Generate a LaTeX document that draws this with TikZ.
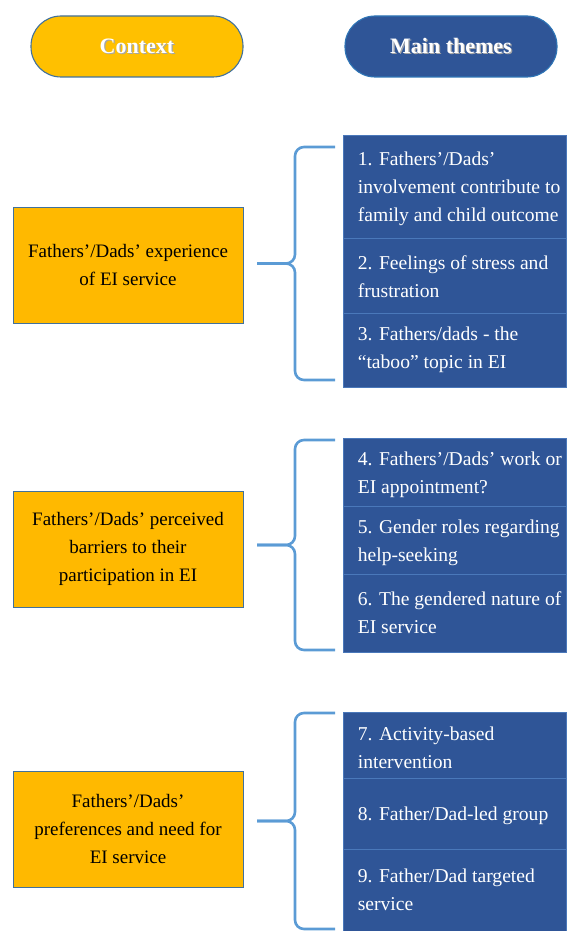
\documentclass[tikz,border=0pt]{standalone}
\usepackage{fontspec}
\setmainfont{Liberation Serif}
\definecolor{pillgold}{HTML}{FFC000}
\definecolor{boxgold}{HTML}{FFB900}
\definecolor{edgegray}{HTML}{41719C}
\definecolor{themeblue}{HTML}{2F5597}
\definecolor{pilledge}{HTML}{2E75B6}
\definecolor{cellline}{HTML}{4A78BA}
\definecolor{bracecol}{HTML}{5B9BD5}
% white heading text with a faint drop shadow
\newcommand\shadowed[1]{\makebox[0pt][l]{\hspace{1.2pt}\raisebox{-1.2pt}{\color{black!35}#1}}#1}
\begin{document}
\begin{tikzpicture}[x=1pt,y=-1pt,
  pill/.style={rounded corners=30pt, minimum width=212pt, minimum height=61pt,
    line width=1.1pt, text=white, font=\bfseries\fontsize{22}{26}\selectfont},
  ctxbox/.style={draw=edgegray, fill=boxgold, line width=0.9pt,
    minimum width=230pt, minimum height=116pt, align=center,
    font=\fontsize{19}{28}\selectfont},
  cell/.style={draw=cellline, fill=themeblue, line width=0.8pt,
    minimum width=223pt, inner sep=0pt},
  celltext/.style={anchor=west, inner sep=0pt, align=left, text=white,
    font=\fontsize{19.6}{28}\selectfont},
  bracestroke/.style={draw=bracecol, line width=2.6pt, rounded corners=9pt}]
\useasboundingbox (0,0) rectangle (566,931);

% headings
\node[pill, draw=edgegray, fill=pillgold] (hctx) at (137,46.5) {\shadowed{Context}};
\node[pill, draw=pilledge, fill=themeblue] (hthemes) at (451,46.5) {\shadowed{Main themes}};

% context boxes
\node[ctxbox] (c1) at (128,265) {Fathers’/Dads’ experience\\of EI service};
\node[ctxbox] (c2) at (128,549) {Fathers’/Dads’ perceived\\barriers to their\\participation in EI};
\node[ctxbox] (c3) at (128,829) {Fathers’/Dads’\\preferences and need for\\EI service};

% theme cells, group 1
\node[cell, minimum height=103pt] (t1) at (454.5,186.5) {};
\node[cell, minimum height=75pt] (t2) at (454.5,275.5) {};
\node[cell, minimum height=74pt] (t3) at (454.5,350) {};
% theme cells, group 2
\node[cell, minimum height=68pt] (t4) at (454.5,472) {};
\node[cell, minimum height=68pt] (t5) at (454.5,540) {};
\node[cell, minimum height=78pt] (t6) at (454.5,613) {};
% theme cells, group 3
\node[cell, minimum height=66pt] (t7) at (454.5,745) {};
\node[cell, minimum height=71pt] (t8) at (454.5,813.5) {};
\node[cell, minimum height=82pt] (t9) at (454.5,890) {};

% theme labels
\node[celltext] (l1) at ([xshift=15pt,yshift=-2pt]t1.west) {1. Fathers’/Dads’\\involvement contribute to\\family and child outcome};
\node[celltext] (l2) at ([xshift=15pt,yshift=-1pt]t2.west) {2. Feelings of stress and\\frustration};
\node[celltext] (l3) at ([xshift=15pt]t3.west) {3. Fathers/dads - the\\“taboo” topic in EI};
\node[celltext] (l4) at ([xshift=15pt,yshift=-3pt]t4.west) {4. Fathers’/Dads’ work or\\EI appointment?};
\node[celltext] (l5) at ([xshift=15pt,yshift=-3pt]t5.west) {5. Gender roles regarding\\help-seeking};
\node[celltext] (l6) at ([xshift=15pt]t6.west) {6. The gendered nature of\\EI service};
\node[celltext] (l7) at ([xshift=15pt,yshift=-3pt]t7.west) {7. Activity-based\\intervention};
\node[celltext] (l8) at ([xshift=15pt,yshift=-2pt]t8.west) {8. Father/Dad-led group};
\node[celltext] (l9) at ([xshift=15pt]t9.west) {9. Father/Dad targeted\\service};

% braces: upper arm, spine and tip, lower arm
\coordinate (b1top) at (335,147);  \coordinate (b1bot) at (335,380);
\coordinate (b1mid) at (295,263.5); \coordinate (b1tip) at (257,263.5);
\coordinate (b2top) at (335,440);  \coordinate (b2bot) at (335,650);
\coordinate (b2mid) at (295,545);  \coordinate (b2tip) at (257,545);
\coordinate (b3top) at (335,713);  \coordinate (b3bot) at (335,929);
\coordinate (b3mid) at (295,821);  \coordinate (b3tip) at (257,821);
\foreach \i in {1,2,3}{
  \draw[bracestroke] (b\i top) -| (b\i mid) -- (b\i tip);
  \draw[bracestroke] (b\i tip) -- (b\i mid) |- (b\i bot);
}
\end{tikzpicture}
\end{document}
